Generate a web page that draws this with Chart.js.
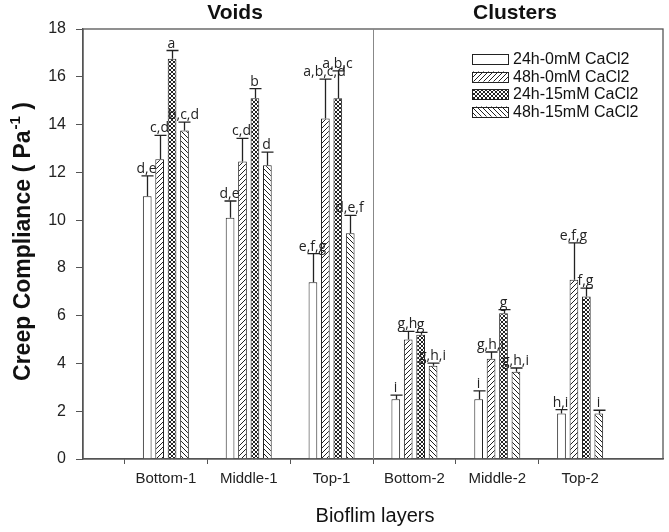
<!DOCTYPE html>
<html>
<head>
<meta charset="utf-8">
<script src="https://cdn.jsdelivr.net/npm/chart.js@4"></script>
<style>
  body { margin: 0; background: #fff; }
</style>
</head>
<body>
<canvas id="chart" width="669" height="532"></canvas>
<script>
var layers = ['Bottom-1', 'Middle-1', 'Top-1', 'Bottom-2', 'Middle-2', 'Top-2'];
var seriesNames = ['24h-0mM CaCl2', '48h-0mM CaCl2', '24h-15mM CaCl2', '48h-15mM CaCl2'];
var yTicks = [0, 2, 4, 6, 8, 10, 12, 14, 16, 18];

// means
var mean24h0 = [11.0, 10.1, 7.4, 2.5, 2.5, 1.9];
var mean48h0 = [12.55, 12.45, 14.25, 5.0, 4.2, 7.5];
var mean24h15 = [16.75, 15.1, 15.1, 5.2, 6.1, 6.8];
var mean48h15 = [13.75, 12.3, 9.45, 3.9, 3.65, 1.9];

// error bar heights (upper side only)
var err24h0 = [0.85, 0.7, 1.2, 0.17, 0.35, 0.17];
var err48h0 = [1.0, 0.97, 1.65, 0.34, 0.28, 1.55];
var err24h15 = [0.35, 0.4, 1.15, 0.1, 0.15, 0.35];
var err48h15 = [0.35, 0.55, 0.75, 0.11, 0.16, 0.14];

// significance letters
var sig24h0 = ['d,e', 'd,e', 'e,f,g', 'i', 'i', 'h,i'];
var sig48h0 = ['c,d', 'c,d', 'a,b,c,d', 'g,h', 'g,h,i', 'e,f,g'];
var sig24h15 = ['a', 'b', 'a,b,c', 'g', 'g', 'f,g'];
var sig48h15 = ['b,c,d', 'd', 'd,e,f', 'g,h,i', 'g,h,i', 'i'];

var means = [mean24h0, mean48h0, mean24h15, mean48h15];
var errs = [err24h0, err48h0, err24h15, err48h15];
var sigs = [sig24h0, sig48h0, sig24h15, sig48h15];

// fill patterns: plain, "/" hatch, cross hatch, "\" hatch
function makePattern(kind) {
    var c = document.createElement('canvas');
    var s = kind == 'cross' ? 4 : 5;
    c.width = s;
    c.height = s;
    var g = c.getContext('2d');
    g.fillStyle = '#fff';
    g.fillRect(0, 0, s, s);
    if (kind == 'none') return g.createPattern(c, 'repeat');
    g.strokeStyle = '#222';
    g.lineWidth = 1;
    g.beginPath();
    if (kind == 'fwd' || kind == 'cross') {
        g.moveTo(-1, s + 1); g.lineTo(s + 1, -1);
    }
    if (kind == 'back' || kind == 'cross') {
        g.moveTo(-1, -1); g.lineTo(s + 1, s + 1);
    }
    g.stroke();
    return g.createPattern(c, 'repeat');
}

var fills = [makePattern('none'), makePattern('fwd'), makePattern('cross'), makePattern('back')];

var xLabels = [''].concat(layers).concat(['']);

var datasets = [];
for (var i = 0; i < 4; i++) {
    datasets.push({
        label: seriesNames[i],
        data: [null].concat(means[i]).concat([null]),
        backgroundColor: fills[i],
        borderColor: '#222',
        borderWidth: 1,
        categoryPercentage: 0.6,
        barPercentage: 0.7
    });
}

var fontMain = '"Liberation Sans", Arial, sans-serif';

var extras = {
    id: 'extras',
    beforeDraw: function(chart) {
        var ctx = chart.ctx;
        ctx.save();
        ctx.fillStyle = '#fff';
        ctx.fillRect(0, 0, chart.width, chart.height);
        ctx.restore();
    },
    afterDatasetsDraw: function(chart) {
        var ctx = chart.ctx;
        var y = chart.scales.y;
        ctx.save();
        ctx.strokeStyle = '#222';
        ctx.lineWidth = 1.3;
        ctx.fillStyle = '#222';
        ctx.font = '14px "Open Sans", sans-serif';
        ctx.textAlign = 'center';
        ctx.textBaseline = 'alphabetic';
        for (var i = 0; i < 4; i++) {
            var meta = chart.getDatasetMeta(i);
            for (var j = 0; j < layers.length; j++) {
                var bar = meta.data[j + 1];
                var top = y.getPixelForValue(means[i][j] + errs[i][j]);
                var x = Math.round(bar.x) + 0.5;
                ctx.beginPath();
                ctx.moveTo(x, bar.y);
                ctx.lineTo(x, top);
                ctx.moveTo(x - 6, top);
                ctx.lineTo(x + 6, top);
                ctx.stroke();
                ctx.fillText(sigs[i][j], x - 1, top - 3);
            }
        }
        ctx.restore();
    },
    afterDraw: function(chart) {
        var ctx = chart.ctx;
        var a = chart.chartArea;
        var xs = chart.scales.x;
        ctx.save();
        // frame
        ctx.strokeStyle = '#555';
        ctx.lineWidth = 1.3;
        ctx.strokeRect(a.left, a.top, a.right - a.left, a.bottom - a.top);
        // divider between voids and clusters
        var dx = Math.round(xs.getPixelForValue(3.5)) + 0.5;
        ctx.strokeStyle = '#888';
        ctx.lineWidth = 1;
        ctx.beginPath();
        ctx.moveTo(dx, a.top);
        ctx.lineTo(dx, a.bottom);
        ctx.stroke();

        ctx.fillStyle = '#111';
        ctx.textAlign = 'center';
        ctx.textBaseline = 'middle';
        ctx.font = 'bold 21px ' + fontMain;
        ctx.fillText('Voids', 235, 13);
        ctx.fillText('Clusters', 515, 13);

        ctx.font = '20px ' + fontMain;
        ctx.fillText('Bioflim layers', 375, 516);

        // y title with superscript
        ctx.translate(22, 242);
        ctx.rotate(-Math.PI / 2);
        ctx.textAlign = 'left';
        ctx.textBaseline = 'alphabetic';
        var p1 = 'Creep Compliance ( Pa';
        var p2 = '-1';
        var p3 = ')';
        ctx.font = 'bold 23px ' + fontMain;
        var w1 = ctx.measureText(p1).width;
        ctx.font = 'bold 15px ' + fontMain;
        var w2 = ctx.measureText(p2).width;
        ctx.font = 'bold 23px ' + fontMain;
        var w3 = ctx.measureText(' ' + p3).width;
        var start = -(w1 + w2 + w3) / 2;
        ctx.fillText(p1, start, 8);
        ctx.font = 'bold 15px ' + fontMain;
        ctx.fillText(p2, start + w1 + 1, -2);
        ctx.font = 'bold 23px ' + fontMain;
        ctx.fillText(' ' + p3, start + w1 + w2 + 1, 8);
        ctx.setTransform(1, 0, 0, 1, 0, 0);

        // legend
        ctx.font = '16px ' + fontMain;
        ctx.textAlign = 'left';
        ctx.textBaseline = 'middle';
        for (var i = 0; i < 4; i++) {
            var cy = 59 + i * 17.5;
            ctx.fillStyle = fills[i];
            ctx.fillRect(472, cy - 5, 36, 10);
            ctx.strokeStyle = '#222';
            ctx.lineWidth = 1;
            ctx.strokeRect(472.5, Math.round(cy - 5) + 0.5, 36, 10);
            ctx.fillStyle = '#111';
            ctx.fillText(seriesNames[i], 513, cy + 1);
        }
        ctx.restore();
    }
};

new Chart(document.getElementById('chart'), {
    type: 'bar',
    data: { labels: xLabels, datasets: datasets },
    options: {
        responsive: false,
        animation: false,
        devicePixelRatio: 1,
        layout: { padding: { top: 29, right: 2, left: 0, bottom: 0 } },
        plugins: {
            legend: { display: false },
            tooltip: { enabled: false }
        },
        scales: {
            x: {
                offset: false,
                grid: {
                    drawOnChartArea: false,
                    tickLength: 5,
                    color: function(c) {
                        return (c.index == 0 || c.index == xLabels.length - 1) ? 'rgba(0,0,0,0)' : '#555';
                    }
                },
                border: { color: '#555', width: 1.3 },
                ticks: {
                    autoSkip: false,
                    maxRotation: 0,
                    color: '#222',
                    padding: 6,
                    font: { family: fontMain, size: 15 }
                },
                afterFit: function(s) { s.height = 73; }
            },
            y: {
                min: 0,
                max: 18,
                afterBuildTicks: function(s) {
                    s.ticks = yTicks.map(function(v) { return { value: v }; });
                },
                grid: { drawOnChartArea: false, tickLength: 7, color: '#555' },
                border: { color: '#555', width: 1.3 },
                ticks: {
                    color: '#222',
                    padding: 10,
                    font: { family: fontMain, size: 16 }
                },
                afterFit: function(s) { s.width = 83; }
            }
        }
    },
    plugins: [extras]
});
</script>
</body>
</html>
